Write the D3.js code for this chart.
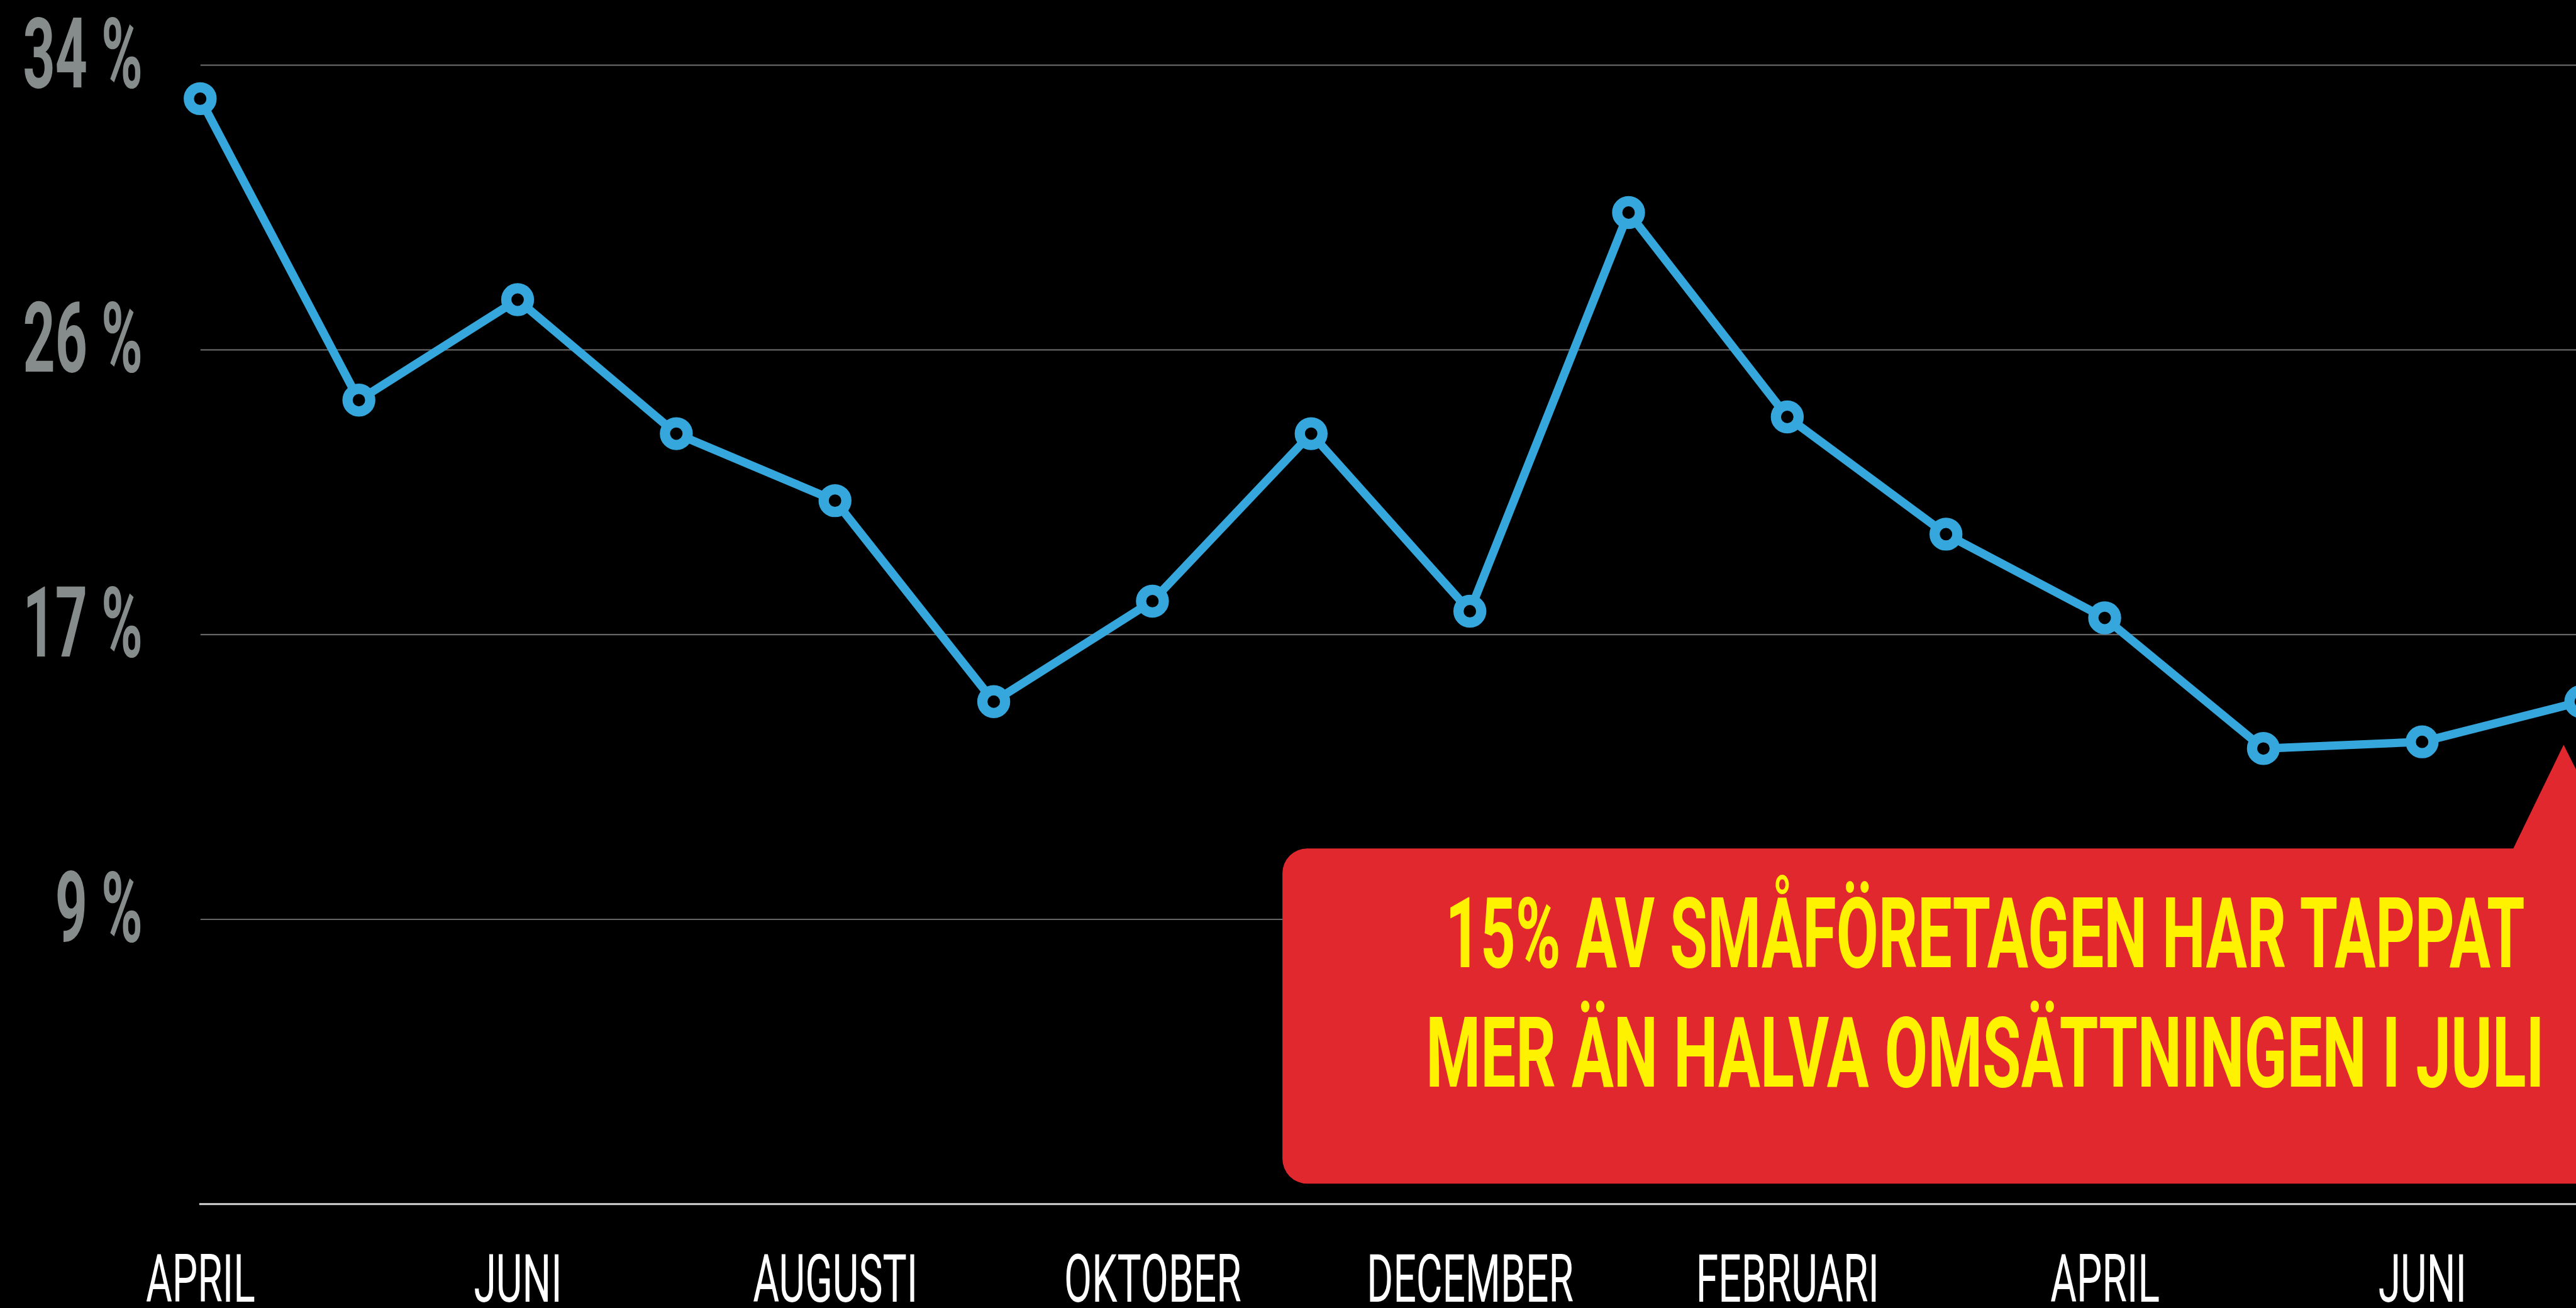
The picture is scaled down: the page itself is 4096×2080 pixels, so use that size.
<!DOCTYPE html>
<html><head><meta charset="utf-8">
<script src="https://cdn.jsdelivr.net/npm/d3@7"></script>
<style>html,body{margin:0;padding:0;background:#000;overflow:hidden}</style>
</head><body>
<svg id="chart" width="4096" height="2080" style="display:block;background:#000"></svg>
<script>
// ---- data ----
const periods = ["2020-04","2020-05","2020-06","2020-07","2020-08","2020-09","2020-10","2020-11","2020-12","2021-01","2021-02","2021-03","2021-04","2021-05","2021-06","2021-07"];
const months = ["APRIL","MAJ","JUNI","JULI","AUGUSTI","SEPTEMBER","OKTOBER","NOVEMBER","DECEMBER","JANUARI","FEBRUARI","MARS","APRIL","MAJ","JUNI","JULI"];
const shares = [33,24,27,23,21,15,18,23,17.7,29.6,23.5,20,17.5,13.6,13.8,15];
const xTickPeriods = ["2020-04","2020-06","2020-08","2020-10","2020-12","2021-02","2021-04","2021-06"];
const yTicks = [8.5,17,25.5,34];
const yTickLabels = ["9 %","17 %","26 %","34 %"];
const calloutLines = ["15% AV SMÅFÖRETAGEN HAR TAPPAT","MER ÄN HALVA OMSÄTTNINGEN I JULI"];

// ---- layout (reference units, scaled by S) ----
const S = 0.987, W = 4149, H = 2107;
const svg = d3.select("#chart");
const root = svg.append("g").attr("transform", `scale(${S})`);

const x = d3.scalePoint().domain(periods).range([322.5, 4157.7]);
const y = d3.scaleLinear().domain([0, 34]).range([1940, 105]);

const FONT = "Roboto, 'Liberation Sans', sans-serif";

// measuring helper for condensed look
function measure(txt, size, weight) {
  const t = svg.append("text").attr("font-family", FONT).attr("font-size", size).attr("font-weight", weight).text(txt);
  const w = t.node().getComputedTextLength();
  t.remove();
  return w;
}
const yFs = 157, xFs = 108;
const yCond = 193 / measure("34 %", yFs, 700);
const xCond = 333 / measure("DECEMBER", xFs, 400);

// gridlines
root.append("g").selectAll("line").data(yTicks).join("line")
  .attr("x1", 323).attr("x2", W + 10)
  .attr("y1", d => y(d)).attr("y2", d => y(d))
  .attr("stroke", "#666").attr("stroke-width", 2.2);

// y labels
root.append("g").selectAll("text").data(yTicks).join("text")
  .attr("transform", d => `translate(230,${y(d) + 35.5}) scale(${yCond},1)`)
  .attr("text-anchor", "end")
  .attr("font-family", FONT).attr("font-size", yFs).attr("font-weight", 700)
  .attr("fill", "#868b8c")
  .text((d, i) => yTickLabels[i]);

// baseline
root.append("line").attr("x1", 321).attr("x2", W + 10)
  .attr("y1", y(0)).attr("y2", y(0))
  .attr("stroke", "#d6d6d6").attr("stroke-width", 3.2);

// x axis labels
const xAxis = d3.axisBottom(x).tickValues(xTickPeriods)
  .tickFormat(p => months[periods.indexOf(p)]).tickSize(0);
const gx = root.append("g").attr("transform", `translate(0,${y(0)})`).call(xAxis);
gx.select(".domain").remove();
gx.selectAll("text")
  .attr("y", 0).attr("dy", 0)
  .attr("transform", `translate(0,157) scale(${xCond},1)`)
  .attr("font-family", FONT).attr("font-size", xFs).attr("font-weight", 400)
  .attr("fill", "#fff");

// line
const line = d3.line().x((d, i) => x(periods[i])).y(d => y(d));
root.append("path").datum(shares)
  .attr("d", line).attr("fill", "none")
  .attr("stroke", "#36a7dd").attr("stroke-width", 13.5)
  .attr("stroke-linejoin", "round");

// markers
root.append("g").selectAll("circle").data(shares).join("circle")
  .attr("cx", (d, i) => x(periods[i])).attr("cy", d => y(d))
  .attr("r", 18.3).attr("fill", "#000")
  .attr("stroke", "#36a7dd").attr("stroke-width", 16.5);

// callout
const L = 2066, T = 1367, B = 1907, R = 4400, r = 40;
const callout = d3.path();
callout.moveTo(L + r, T);
callout.lineTo(4049, T);
callout.lineTo(4130, 1200);
callout.lineTo(4214, T);
callout.lineTo(R, T);
callout.lineTo(R, B);
callout.lineTo(L + r, B);
callout.arcTo(L, B, L, B - r, r);
callout.lineTo(L, T + r);
callout.arcTo(L, T, L + r, T, r);
callout.closePath();
root.append("path").attr("d", callout.toString()).attr("fill", "#e1282f");

const lineWidths = [1739, 1802];
const lineBase = [1558, 1751];
root.append("g").selectAll("text").data(calloutLines).join("text")
  .attr("x", 3198).attr("y", (d, i) => lineBase[i])
  .attr("text-anchor", "middle")
  .attr("textLength", (d, i) => lineWidths[i]).attr("lengthAdjust", "spacingAndGlyphs")
  .attr("font-family", FONT).attr("font-size", 157).attr("font-weight", 700)
  .attr("fill", "#fff200")
  .text(d => d);
</script>
</body></html>
